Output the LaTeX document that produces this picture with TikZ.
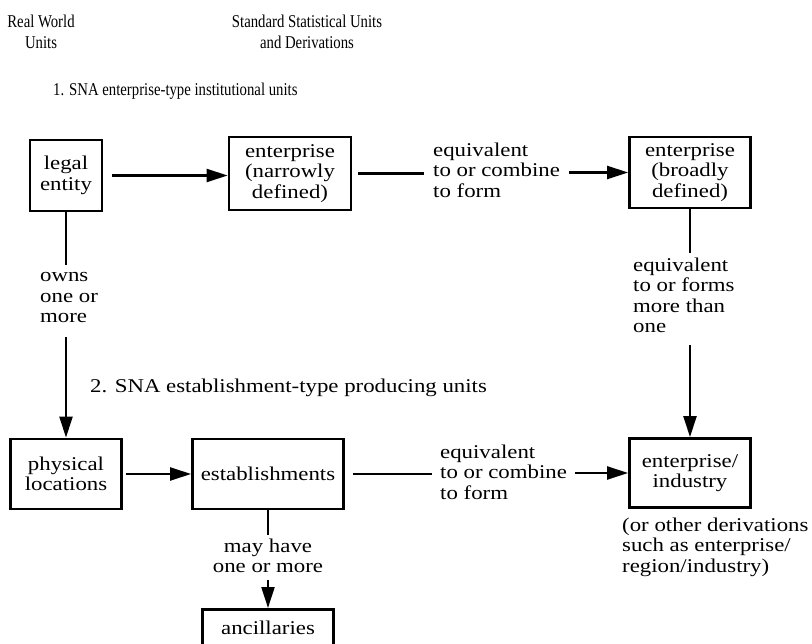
\documentclass[tikz,border=0pt]{standalone}
\usepackage{fontspec}
\setmainfont[FakeStretch=1.17]{Liberation Serif}
\newfontfamily\headfont[FakeStretch=0.82]{Liberation Serif}
\newcommand\bdfont{\fontsize{19.5}{20.5}\selectfont}
\newcommand\hdfont{\headfont\fontsize{18}{21}\selectfont}
\usetikzlibrary{arrows.meta}
\begin{document}
\begin{tikzpicture}[x=1pt,y=-1pt,
  box/.style={draw,line width=2.8pt,inner sep=0pt,align=center,font=\bdfont},
  lbl/.style={inner sep=0pt,align=left,font=\bdfont},
  hd/.style={inner sep=0pt,align=center,font=\hdfont},
  conn/.style={line width=2.2pt},
  arr/.style={line width=2.2pt,-{Triangle[length=21pt,width=13pt]}}]
\useasboundingbox (0,0) rectangle (812,644);
\clip (0,0) rectangle (812,644);

% headers
\node[hd] (rw) at (41,31.4) {Real World\\Units};
\node[hd] (ssu) at (307,31.4) {Standard Statistical Units\\and Derivations};
\node[hd,anchor=west] (sec1) at (53,91) {1. SNA enterprise-type institutional units};

% top row boxes
\node[box,minimum width=72,minimum height=71] (legal) at (66,175.5) {legal\\entity};
\node[box,minimum width=122,minimum height=73] (enarrow) at (290,173.5) {enterprise\\(narrowly\\defined)};
\node[box,minimum width=121,minimum height=71] (ebroad) at (690,172.5) {enterprise\\(broadly\\defined)};

\node[lbl,anchor=west,inner xsep=9pt] (lab1) at (424,170.3) {equivalent\\to or combine\\to form};
\draw[arr] ([xshift=9pt]legal.east) -- (legal.east -| enarrow.west);
\draw[conn] ([xshift=6pt]enarrow.east) -- (enarrow.east -| lab1.west);
\draw[arr] (ebroad.west -| lab1.east) -- (ebroad.west);

% left vertical
\node[lbl,anchor=west] (owns) at (40,298) {owns\\one or\\more};
\coordinate (o1) at (66,265);
\coordinate (o2) at (66,337);
\draw[conn] (legal.south) -- (o1);

% right vertical
\node[lbl,anchor=west] (lab3) at (633,295.3) {equivalent\\to or forms\\more than\\one};
\coordinate (r1) at (690,253);
\coordinate (r2) at (690,345);
\draw[conn] (ebroad.south) -- (r1);

% section 2
\node[lbl,anchor=west] (sec2) at (90,388) {2. SNA establishment-type producing units};

% bottom row boxes
\node[box,minimum width=111,minimum height=70] (phys) at (66,474) {physical\\locations};
\node[box,minimum width=151,minimum height=70] (estab) at (268,474) {establishments};
\node[box,minimum width=121,minimum height=69] (entind) at (690,473) {enterprise/\\industry};
\node[box,anchor=north,minimum width=131,text height=25pt,text depth=50pt] (ancill) at (268,608) {ancillaries};

\draw[arr] (o2) -- (o2 |- phys.north);
\draw[arr] (r2) -- (entind.north);

\node[lbl,anchor=west,inner xsep=8pt] (lab2) at (432,471.9) {equivalent\\to or combine\\to form};
\draw[arr] ([xshift=3pt]phys.east) -- (phys.east -| estab.west);
\draw[conn] ([xshift=8pt]estab.east) -- (estab.east -| lab2.west);
\draw[arr] (entind.west -| lab2.east) -- (entind.west);

\node[lbl,anchor=west] (deriv) at (622,547) {(or other derivations\\such as enterprise/\\region/industry)};

% establishments to ancillaries
\node[lbl,align=center] (may) at (268,555.9) {may have\\one or more};
\coordinate (m1) at (268,535);
\coordinate (m2) at (268,580);
\draw[conn] (estab.south) -- (m1);
\draw[arr] (m2) -- (ancill.north);
\end{tikzpicture}
\end{document}
